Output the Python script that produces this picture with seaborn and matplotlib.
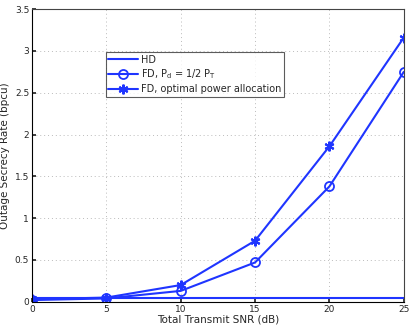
import matplotlib
matplotlib.use("Agg")
import matplotlib.pyplot as plt
import pandas as pd
import seaborn as sns

snr_db = [0, 5, 10, 15, 20, 25]
hd_rate = [0.04, 0.04, 0.04, 0.04, 0.04, 0.04]
fd_half_rate = [0.02, 0.04, 0.13, 0.47, 1.38, 2.75]
fd_opt_rate = [0.03, 0.05, 0.20, 0.73, 1.86, 3.16]
labels = ["HD", r"FD, P$_\mathrm{d}$ = 1/2 P$_\mathrm{T}$", "FD, optimal power allocation"]

sns.set_theme(style="white")
plt.rcParams["font.family"] = ["DejaVu Sans"]

df = pd.DataFrame({"snr": snr_db, "hd": hd_rate, "fd_half": fd_half_rate, "fd_opt": fd_opt_rate})

blue = "#1f35ff"
fig, ax = plt.subplots(figsize=(4.15, 3.28), dpi=100)
sns.lineplot(data=df, x="snr", y="hd", ax=ax, color=blue, lw=1.5, label=labels[0])
sns.lineplot(data=df, x="snr", y="fd_half", ax=ax, color=blue, lw=1.5, marker="o",
             markersize=6.5, markerfacecolor="none", markeredgecolor=blue, markeredgewidth=1.3,
             label=labels[1])
sns.lineplot(data=df, x="snr", y="fd_opt", ax=ax, color=blue, lw=1.5, marker=(6, 2, 0),
             markersize=7, markeredgecolor=blue, markeredgewidth=1.5, label=labels[2])

ax.set_xlim(0, 25)
ax.set_ylim(0, 3.5)
ax.set_xticks([0, 5, 10, 15, 20, 25])
ax.set_yticks([0, 0.5, 1, 1.5, 2, 2.5, 3, 3.5])
ax.set_yticklabels(["0", "0.5", "1", "1.5", "2", "2.5", "3", "3.5"])
ax.grid(True, linestyle=(0, (1, 3)), color="#bbbbbb", lw=0.7)
ax.tick_params(labelsize=6.5, direction="in", length=3, pad=2, left=True, bottom=True)
ax.set_xlabel("Total Transmit SNR (dB)", fontsize=7.5, labelpad=1)
ax.set_ylabel("Outage Secrecy Rate (bpcu)", fontsize=7.5)
ax.yaxis.set_label_coords(-0.058, 0.5)
for s in ax.spines.values():
    s.set_color("#444444")
    s.set_linewidth(0.8)
ax.spines["left"].set_color("black")
ax.spines["bottom"].set_color("black")

leg = ax.legend(loc="upper left", bbox_to_anchor=(0.198, 0.855), fontsize=7, frameon=True,
                fancybox=False, edgecolor="#333333", borderpad=0.3, labelspacing=0.3,
                handlelength=3, handletextpad=0.3, borderaxespad=0)
leg.get_frame().set_linewidth(0.8)

fig.subplots_adjust(left=0.077, right=0.973, top=0.972, bottom=0.08)
fig.savefig("out.png", dpi=100)
